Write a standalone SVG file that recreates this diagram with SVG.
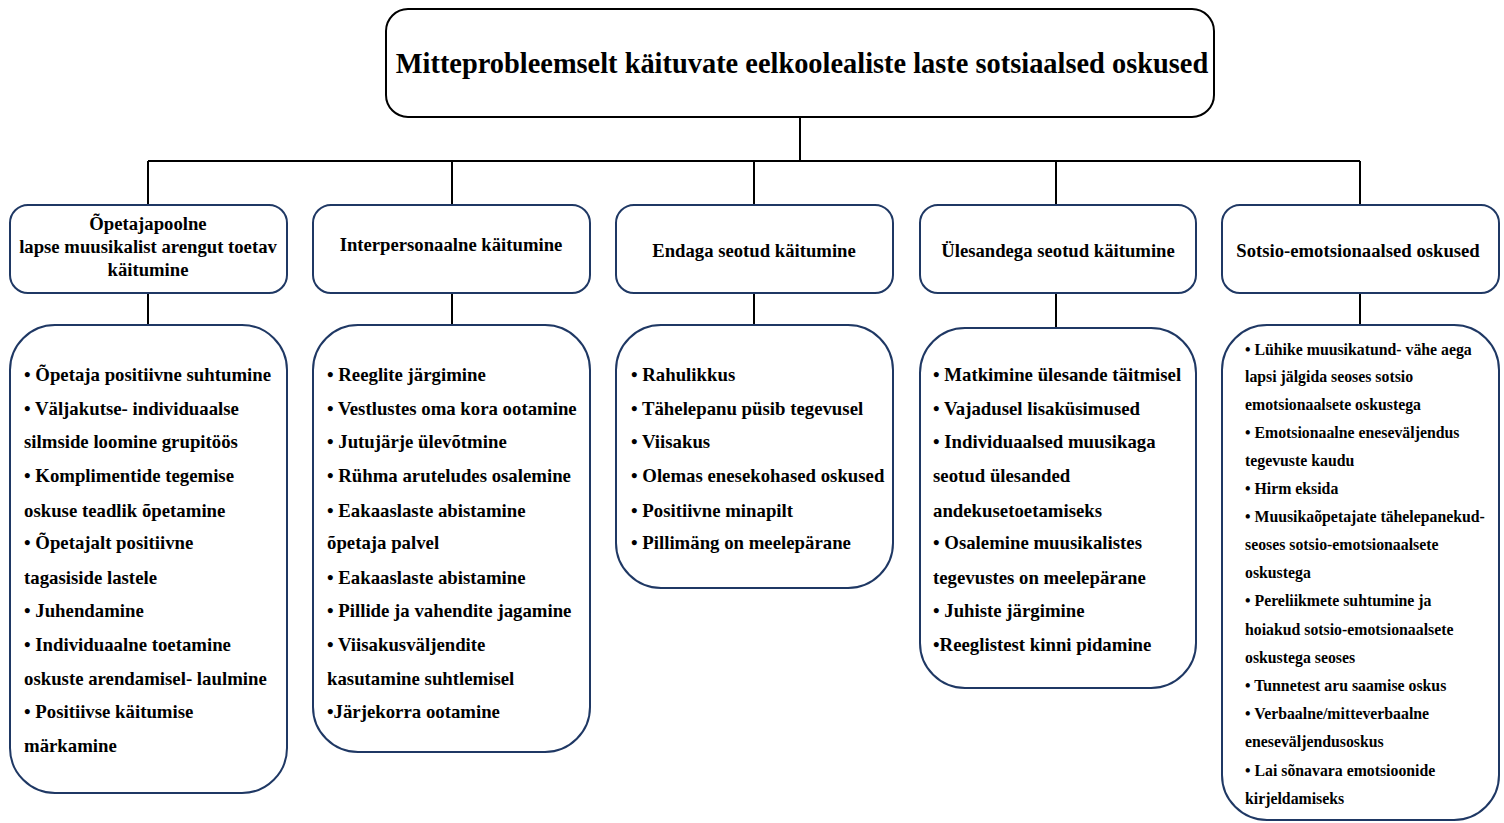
<svg xmlns="http://www.w3.org/2000/svg" width="1504" height="823" viewBox="0 0 1504 823">
<style>
.t{font-family:"Liberation Serif","Times New Roman",serif;font-weight:bold;fill:#000}
.title{font-size:28.4px}
.cat{font-size:18.7px;text-anchor:middle}
.it{font-size:18.8px}
.sm{font-size:15.8px}
.main{fill:#fff;stroke:#000;stroke-width:2}
.box{fill:#fff;stroke:#1f3864;stroke-width:2}
.con{stroke:#000;stroke-width:2;fill:none}
</style>
<rect width="1504" height="823" fill="#fff"/>
<g id="connectors">
<line class="con" x1="800" y1="117" x2="800" y2="161"/>
<line class="con" x1="148" y1="161" x2="1360" y2="161"/>
<line class="con" x1="148" y1="161" x2="148" y2="205"/>
<line class="con" x1="452" y1="161" x2="452" y2="205"/>
<line class="con" x1="754" y1="161" x2="754" y2="205"/>
<line class="con" x1="1056" y1="161" x2="1056" y2="205"/>
<line class="con" x1="1360" y1="161" x2="1360" y2="205"/>
<line class="con" x1="148" y1="293" x2="148" y2="325"/>
<line class="con" x1="452" y1="293" x2="452" y2="325"/>
<line class="con" x1="754" y1="293" x2="754" y2="325"/>
<line class="con" x1="1056" y1="293" x2="1056" y2="328"/>
<line class="con" x1="1360" y1="293" x2="1360" y2="325"/>
</g>
<g id="root">
<rect class="main" x="386" y="9" width="828" height="108" rx="22"/>
<text class="t title" x="802" y="73" text-anchor="middle">Mitteprobleemselt käituvate eelkoolealiste laste sotsiaalsed oskused</text>
</g>
<g id="cat1">
<rect class="box" x="10" y="205" width="277" height="88" rx="18"/>
<text class="t cat" x="148" y="230">Õpetajapoolne</text>
<text class="t cat" x="148" y="253">lapse muusikalist arengut toetav</text>
<text class="t cat" x="148" y="276">käitumine</text>
</g>
<g id="cat2">
<rect class="box" x="313" y="205" width="277" height="88" rx="18"/>
<text class="t cat" x="451" y="251">Interpersonaalne käitumine</text>
</g>
<g id="cat3">
<rect class="box" x="616" y="205" width="277" height="88" rx="18"/>
<text class="t cat" x="754" y="257">Endaga seotud käitumine</text>
</g>
<g id="cat4">
<rect class="box" x="920" y="205" width="276" height="88" rx="18"/>
<text class="t cat" x="1058" y="257">Ülesandega seotud käitumine</text>
</g>
<g id="cat5">
<rect class="box" x="1222" y="205" width="277" height="88" rx="18"/>
<text class="t cat" x="1358" y="257">Sotsio-emotsionaalsed oskused</text>
</g>
<g id="list1">
<rect class="box" x="10" y="325" width="277" height="468" rx="45"/>
<text class="t it" x="24" y="381">• Õpetaja positiivne suhtumine</text>
<text class="t it" x="24" y="415">• Väljakutse- individuaalse</text>
<text class="t it" x="24" y="448">silmside loomine grupitöös</text>
<text class="t it" x="24" y="482">• Komplimentide tegemise</text>
<text class="t it" x="24" y="517">oskuse teadlik õpetamine</text>
<text class="t it" x="24" y="549">• Õpetajalt positiivne</text>
<text class="t it" x="24" y="584">tagasiside lastele</text>
<text class="t it" x="24" y="617">• Juhendamine</text>
<text class="t it" x="24" y="651">• Individuaalne toetamine</text>
<text class="t it" x="24" y="685">oskuste arendamisel- laulmine</text>
<text class="t it" x="24" y="718">• Positiivse käitumise</text>
<text class="t it" x="24" y="752">märkamine</text>
</g>
<g id="list2">
<rect class="box" x="313" y="325" width="277" height="427" rx="45"/>
<text class="t it" x="327" y="381">• Reeglite järgimine</text>
<text class="t it" x="327" y="415">• Vestlustes oma kora ootamine</text>
<text class="t it" x="327" y="448">• Jutujärje ülevõtmine</text>
<text class="t it" x="327" y="482">• Rühma aruteludes osalemine</text>
<text class="t it" x="327" y="517">• Eakaaslaste abistamine</text>
<text class="t it" x="327" y="549">õpetaja palvel</text>
<text class="t it" x="327" y="584">• Eakaaslaste abistamine</text>
<text class="t it" x="327" y="617">• Pillide ja vahendite jagamine</text>
<text class="t it" x="327" y="651">• Viisakusväljendite</text>
<text class="t it" x="327" y="685">kasutamine suhtlemisel</text>
<text class="t it" x="327" y="718">•Järjekorra ootamine</text>
</g>
<g id="list3">
<rect class="box" x="616" y="325" width="277" height="263" rx="45"/>
<text class="t it" x="631" y="381">• Rahulikkus</text>
<text class="t it" x="631" y="415">• Tähelepanu püsib tegevusel</text>
<text class="t it" x="631" y="448">• Viisakus</text>
<text class="t it" x="631" y="482">• Olemas enesekohased oskused</text>
<text class="t it" x="631" y="517">• Positiivne minapilt</text>
<text class="t it" x="631" y="549">• Pillimäng on meelepärane</text>
</g>
<g id="list4">
<rect class="box" x="920" y="328" width="276" height="360" rx="45"/>
<text class="t it" x="933" y="381">• Matkimine ülesande täitmisel</text>
<text class="t it" x="933" y="415">• Vajadusel lisaküsimused</text>
<text class="t it" x="933" y="448">• Individuaalsed muusikaga</text>
<text class="t it" x="933" y="482">seotud ülesanded</text>
<text class="t it" x="933" y="517">andekusetoetamiseks</text>
<text class="t it" x="933" y="549">• Osalemine muusikalistes</text>
<text class="t it" x="933" y="584">tegevustes on meelepärane</text>
<text class="t it" x="933" y="617">• Juhiste järgimine</text>
<text class="t it" x="933" y="651">•Reeglistest kinni pidamine</text>
</g>
<g id="list5">
<rect class="box" x="1222" y="325" width="277" height="495" rx="45"/>
<text class="t sm" x="1245" y="355">• Lühike muusikatund- vähe aega</text>
<text class="t sm" x="1245" y="382">lapsi jälgida seoses sotsio</text>
<text class="t sm" x="1245" y="410">emotsionaalsete oskustega</text>
<text class="t sm" x="1245" y="438">• Emotsionaalne eneseväljendus</text>
<text class="t sm" x="1245" y="466">tegevuste kaudu</text>
<text class="t sm" x="1245" y="494">• Hirm eksida</text>
<text class="t sm" x="1245" y="522">• Muusikaõpetajate tähelepanekud-</text>
<text class="t sm" x="1245" y="550">seoses sotsio-emotsionaalsete</text>
<text class="t sm" x="1245" y="578">oskustega</text>
<text class="t sm" x="1245" y="606">• Pereliikmete suhtumine ja</text>
<text class="t sm" x="1245" y="635">hoiakud sotsio-emotsionaalsete</text>
<text class="t sm" x="1245" y="663">oskustega seoses</text>
<text class="t sm" x="1245" y="691">• Tunnetest aru saamise oskus</text>
<text class="t sm" x="1245" y="719">• Verbaalne/mitteverbaalne</text>
<text class="t sm" x="1245" y="747">eneseväljendusoskus</text>
<text class="t sm" x="1245" y="776">• Lai sõnavara emotsioonide</text>
<text class="t sm" x="1245" y="804">kirjeldamiseks</text>
</g>
</svg>
